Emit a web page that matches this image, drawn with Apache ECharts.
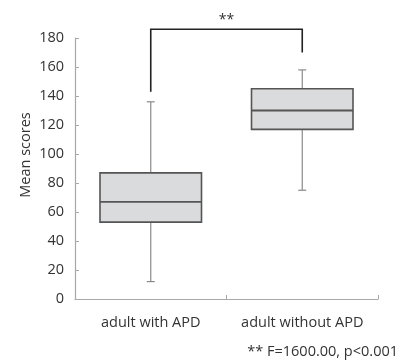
<!DOCTYPE html>
<html>
<head>
<meta charset="utf-8">
<script src="https://cdn.jsdelivr.net/npm/echarts@6/dist/echarts.min.js"></script>
<style>
  html, body { margin: 0; padding: 0; background: #fff; }
  #chart { width: 410px; height: 360px; }
</style>
</head>
<body>
<div id="chart"></div>
<script>
// box plot values
var categories = ['adult with APD', 'adult without APD'];
var whiskerLow = [12, 75];
var q1 = [53, 117];
var median = [67, 130];
var q3 = [87, 145];
var whiskerHigh = [136, 158];
var yTicks = [0, 20, 40, 60, 80, 100, 120, 140, 160, 180];

// significance bracket: leg ends for each group, top level
var bracketLegs = [143, 170];
var bracketTop = 186;
var bracketMark = '**';
var footnote = '** F=1600.00, p<0.001';

var FONT = '"Open Sans", sans-serif';
var TEXT = '#333333';

var boxData = categories.map(function (c, i) {
  return [i, whiskerLow[i], q1[i], median[i], q3[i], whiskerHigh[i]];
});

function renderBox (params, api) {
  var i = api.value(0);
  var band = api.size([1, 0])[0];
  var half = band * 0.335;
  var lo = api.coord([i, api.value(1)]);
  var b1 = api.coord([i, api.value(2)]);
  var md = api.coord([i, api.value(3)]);
  var b3 = api.coord([i, api.value(4)]);
  var hi = api.coord([i, api.value(5)]);
  var x = lo[0];
  var cap = 4;
  var whisker = { stroke: '#8a8a8a', lineWidth: 1.2 };
  return {
    type: 'group',
    children: [
      { type: 'line', shape: { x1: x, y1: hi[1], x2: x, y2: b3[1] }, style: whisker },
      { type: 'line', shape: { x1: x, y1: b1[1], x2: x, y2: lo[1] }, style: whisker },
      { type: 'line', shape: { x1: x - cap, y1: hi[1], x2: x + cap, y2: hi[1] }, style: whisker },
      { type: 'line', shape: { x1: x - cap, y1: lo[1], x2: x + cap, y2: lo[1] }, style: whisker },
      {
        type: 'rect',
        shape: { x: x - half, y: b3[1], width: half * 2, height: b1[1] - b3[1] },
        style: { fill: '#dadbdc', stroke: '#555555', lineWidth: 1.6 }
      },
      {
        type: 'line',
        shape: { x1: x - half, y1: md[1], x2: x + half, y2: md[1] },
        style: { stroke: '#555555', lineWidth: 1.8 }
      }
    ]
  };
}

function renderBracket (params, api) {
  var a = api.coord([api.value(0), api.value(2)]);
  var b = api.coord([api.value(1), api.value(3)]);
  var top = api.coord([api.value(0), api.value(4)])[1];
  return {
    type: 'group',
    children: [
      {
        type: 'polyline',
        shape: { points: [[a[0], a[1]], [a[0], top], [b[0], top], [b[0], b[1]]] },
        style: { stroke: '#222222', lineWidth: 1.6, fill: 'none' }
      },
      {
        type: 'text',
        x: (a[0] + b[0]) / 2,
        y: top - 2,
        style: {
          text: bracketMark, fill: TEXT, font: '14px ' + FONT,
          align: 'center', verticalAlign: 'bottom'
        }
      }
    ]
  };
}

var chart = echarts.init(document.getElementById('chart'));
chart.setOption({
  backgroundColor: '#ffffff',
  animation: false,
  grid: { left: 75, right: 32, top: 38, bottom: 61 },
  xAxis: {
    type: 'category',
    data: categories,
    axisLine: { lineStyle: { color: '#a8a8a8', width: 1.2 } },
    axisTick: { show: true, inside: true, length: 4, lineStyle: { color: '#a8a8a8' } },
    axisLabel: { interval: 0, color: TEXT, fontSize: 14.5, fontFamily: FONT, margin: 16 },
    splitLine: { show: false }
  },
  yAxis: {
    type: 'value',
    min: yTicks[0],
    max: yTicks[yTicks.length - 1],
    interval: yTicks[1] - yTicks[0],
    axisLine: { show: true, lineStyle: { color: '#a8a8a8', width: 1.2 } },
    axisTick: { show: true, inside: true, length: 4, lineStyle: { color: '#a8a8a8' } },
    axisLabel: { color: TEXT, fontSize: 14.5, fontFamily: FONT, margin: 11 },
    splitLine: { show: false }
  },
  graphic: [
    {
      type: 'text',
      x: 26,
      y: 155,
      rotation: Math.PI / 2,
      style: {
        text: 'Mean scores', fill: TEXT, font: '14.5px ' + FONT,
        align: 'center', verticalAlign: 'middle'
      }
    },
    {
      type: 'text',
      right: 12,
      top: 344,
      style: { text: footnote, fill: TEXT, font: '14.5px ' + FONT }
    }
  ],
  series: [
    {
      type: 'custom',
      clip: false,
      renderItem: renderBox,
      encode: { x: 0, y: [1, 2, 3, 4, 5] },
      data: boxData
    },
    {
      type: 'custom',
      clip: false,
      renderItem: renderBracket,
      encode: { x: [0, 1], y: [2, 3, 4] },
      data: [[0, 1, bracketLegs[0], bracketLegs[1], bracketTop]]
    }
  ]
});
</script>
</body>
</html>
